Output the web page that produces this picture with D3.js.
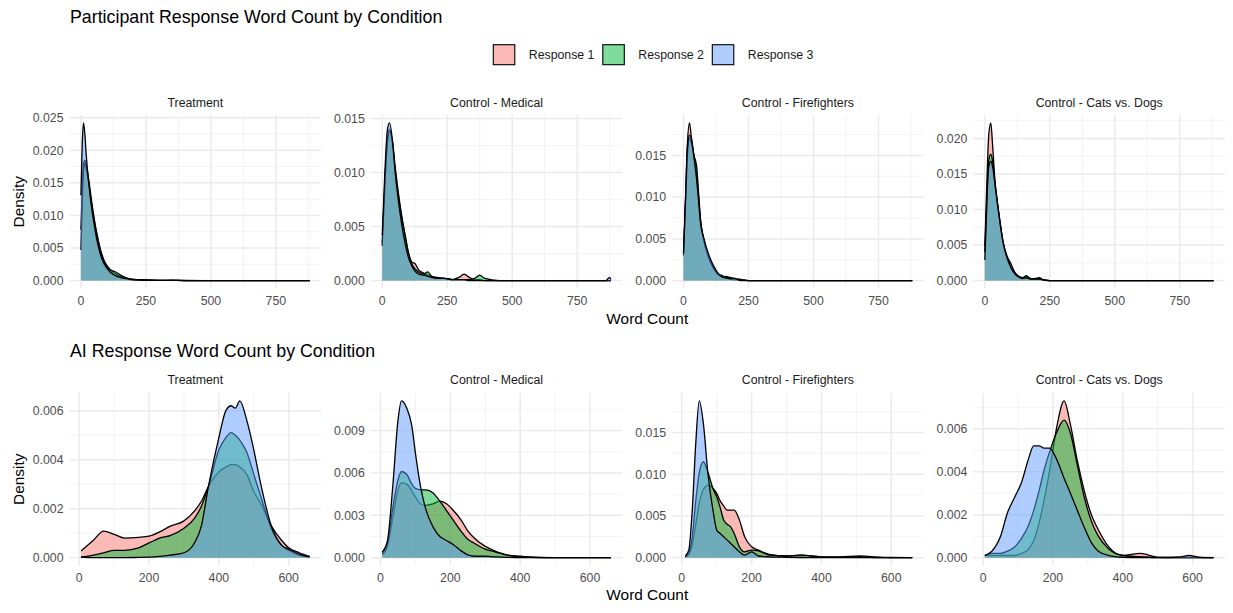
<!DOCTYPE html>
<html>
<head>
<meta charset="utf-8">
<script src="https://cdn.jsdelivr.net/npm/d3@7"></script>
<style>
  body { margin: 0; background: #fff; }
  text { font-family: "Liberation Sans", Arial, Helvetica, sans-serif; }
</style>
</head>
<body>
<svg id="chart"></svg>
<script>
var responses = ["Response 1", "Response 2", "Response 3"];
var fills = ["#F8766D", "#00BA38", "#619CFF"];
var conditions = ["Treatment", "Control - Medical", "Control - Firefighters", "Control - Cats vs. Dogs"];

// participant responses (top row)
var partTreatX = [0, 5, 10, 15, 20, 30, 40, 50, 60, 75, 90, 110, 130, 150, 175, 200, 250, 300, 350, 400, 500, 600, 700, 800, 880];
var partTreatR1 = [0.0078, 0.0140, 0.0180, 0.0185, 0.0178, 0.0155, 0.0125, 0.0098, 0.0075, 0.0048, 0.0030, 0.0018, 0.0011, 0.0007, 0.0004, 0.0002, 0.0001, 0.00005, 0.00004, 0.00002, 0.00001, 0, 0, 0, 0];
var partTreatR2 = [0.0047, 0.0120, 0.0172, 0.0180, 0.0172, 0.0150, 0.0120, 0.0095, 0.0072, 0.0045, 0.0028, 0.0017, 0.0014, 0.0009, 0.0004, 0.0002, 0.0001, 0.00005, 0.00003, 0.00001, 0, 0, 0, 0, 0];
var partTreatR3 = [0.0131, 0.0210, 0.0242, 0.0225, 0.0195, 0.0150, 0.0115, 0.0088, 0.0065, 0.0040, 0.0025, 0.0014, 0.0008, 0.0005, 0.0003, 0.0001, 0.00005, 0.00003, 0.00006, 0.00001, 0, 0, 0, 0, 0];

var partMedX = [0, 10, 20, 28, 40, 50, 60, 75, 90, 100, 115, 125, 140, 160, 175, 190, 210, 240, 270, 295, 315, 335, 355, 375, 395, 450, 600, 800, 860, 875, 880];
var partMedR1 = [0.0035, 0.0090, 0.0132, 0.0140, 0.0125, 0.0100, 0.0082, 0.0058, 0.0038, 0.0026, 0.0017, 0.0016, 0.0010, 0.0007, 0.0005, 0.0004, 0.0003, 0.0002, 0.0001, 0.0003, 0.0006, 0.0003, 0.0001, 0.0001, 0, 0, 0, 0, 0, 0, 0];
var partMedR2 = [0.0032, 0.0088, 0.0128, 0.0138, 0.0128, 0.0105, 0.0085, 0.0060, 0.0040, 0.0027, 0.0015, 0.0011, 0.0008, 0.0006, 0.0008, 0.0004, 0.0002, 0.0002, 0.0001, 0.0001, 0.0001, 0.0001, 0.0002, 0.0005, 0.0002, 0, 0, 0, 0, 0, 0];
var partMedR3 = [0.0042, 0.0100, 0.0140, 0.0146, 0.0128, 0.0100, 0.0078, 0.0052, 0.0032, 0.0022, 0.0013, 0.0009, 0.0006, 0.0005, 0.0004, 0.0003, 0.0002, 0.0002, 0.0001, 0.0001, 0.0001, 0, 0, 0, 0, 0, 0, 0, 0, 0.0003, 0.0001];

var partFireX = [0, 8, 15, 23, 30, 40, 50, 58, 65, 77, 96, 115, 135, 150, 165, 180, 195, 210, 225, 250, 400, 600, 880];
var partFireR1 = [0.0030, 0.0100, 0.0165, 0.0189, 0.0172, 0.0150, 0.0128, 0.0100, 0.0072, 0.0050, 0.0029, 0.0016, 0.0007, 0.0004, 0.0005, 0.0003, 0.0001, 0.0002, 0.0001, 0, 0, 0, 0];
var partFireR2 = [0.0033, 0.0095, 0.0150, 0.0170, 0.0165, 0.0150, 0.0138, 0.0105, 0.0075, 0.0050, 0.0028, 0.0015, 0.0007, 0.0006, 0.0003, 0.0004, 0.0002, 0.0001, 0.0001, 0, 0, 0, 0];
var partFireR3 = [0.0033, 0.0102, 0.0160, 0.0174, 0.0170, 0.0148, 0.0122, 0.0095, 0.0070, 0.0052, 0.0032, 0.0018, 0.0008, 0.0004, 0.0003, 0.0002, 0.0003, 0.0001, 0, 0, 0, 0, 0];

var partCatsX = [0, 8, 15, 23, 30, 40, 50, 60, 70, 85, 100, 115, 130, 145, 160, 175, 195, 210, 225, 250, 400, 600, 880];
var partCatsR1 = [0.0048, 0.0140, 0.0205, 0.0222, 0.0190, 0.0135, 0.0105, 0.0078, 0.0055, 0.0035, 0.0024, 0.0012, 0.0006, 0.0004, 0.0006, 0.0002, 0.0003, 0.0004, 0.0001, 0, 0, 0, 0];
var partCatsR2 = [0.0040, 0.0120, 0.0170, 0.0178, 0.0168, 0.0135, 0.0105, 0.0078, 0.0054, 0.0032, 0.0018, 0.0010, 0.0006, 0.0004, 0.0007, 0.0003, 0.0002, 0.0003, 0.0001, 0, 0, 0, 0];
var partCatsR3 = [0.0029, 0.0110, 0.0160, 0.0168, 0.0160, 0.0132, 0.0104, 0.0077, 0.0054, 0.0033, 0.0019, 0.0010, 0.0005, 0.0003, 0.0004, 0.0002, 0.0002, 0.0002, 0.0001, 0, 0, 0, 0];

// AI responses (bottom row)
var aiTreatX = [5, 40, 70, 100, 130, 170, 200, 230, 260, 300, 330, 350, 370, 400, 420, 435, 447, 460, 480, 500, 520, 550, 580, 600, 630, 660];
var aiTreatR1 = [0.00027, 0.0007, 0.00108, 0.00095, 0.0008, 0.00083, 0.00088, 0.00105, 0.00128, 0.0015, 0.0019, 0.0023, 0.0029, 0.0035, 0.0037, 0.0038, 0.0038, 0.0037, 0.0034, 0.0027, 0.0022, 0.0013, 0.0007, 0.0004, 0.0002, 0.00005];
var aiTreatR2 = [0.00002, 0.0001, 0.0002, 0.0003, 0.0003, 0.0004, 0.0006, 0.0008, 0.0009, 0.0012, 0.0016, 0.0021, 0.0029, 0.0044, 0.0049, 0.0051, 0.0050, 0.0048, 0.0043, 0.0034, 0.0025, 0.0012, 0.0005, 0.0003, 0.0001, 0.00003];
var aiTreatR3 = [0.00002, 0, 0, 0, 0, 0.00001, 0.00002, 0.00005, 0.0001, 0.0002, 0.0006, 0.0013, 0.0029, 0.0049, 0.0060, 0.0062, 0.0061, 0.0064, 0.0056, 0.0044, 0.0030, 0.0013, 0.0005, 0.00035, 0.00015, 0.00003];

var aiMedX = [5, 20, 35, 50, 60, 75, 90, 100, 115, 130, 150, 170, 190, 210, 230, 250, 270, 300, 330, 360, 400, 450, 500, 600, 660];
var aiMedR1 = [0.0002, 0.0008, 0.0028, 0.0048, 0.0053, 0.0052, 0.0047, 0.0043, 0.0038, 0.0037, 0.0038, 0.0040, 0.0038, 0.0033, 0.0027, 0.0019, 0.00135, 0.0008, 0.00045, 0.0002, 0.0001, 0.00002, 0, 0, 0];
var aiMedR2 = [0.0003, 0.0010, 0.0035, 0.0055, 0.0061, 0.0059, 0.0052, 0.0049, 0.0048, 0.0048, 0.0046, 0.0040, 0.0033, 0.0026, 0.0019, 0.0013, 0.0010, 0.0006, 0.0004, 0.0002, 0.00005, 0.00001, 0, 0, 0];
var aiMedR3 = [0.0004, 0.0012, 0.0050, 0.0097, 0.0111, 0.0106, 0.0093, 0.0074, 0.0050, 0.0034, 0.0022, 0.0015, 0.0012, 0.0009, 0.0005, 0.0002, 0.0001, 0.0001, 0.00005, 0.00002, 0.00001, 0, 0, 0, 0];

var aiFireX = [10, 20, 30, 40, 50, 62, 75, 90, 100, 110, 120, 130, 140, 150, 165, 180, 200, 220, 250, 300, 340, 400, 450, 510, 550, 600, 660];
var aiFireR1 = [0.0001, 0.0004, 0.0015, 0.0040, 0.0065, 0.0082, 0.0087, 0.0083, 0.0077, 0.0068, 0.0062, 0.0057, 0.0057, 0.0057, 0.0045, 0.0025, 0.0013, 0.0009, 0.0004, 0.0002, 0.0003, 0.0001, 0.0001, 0.0002, 0.0001, 0.00002, 0];
var aiFireR2 = [0.0001, 0.0005, 0.0025, 0.0068, 0.0102, 0.0115, 0.0102, 0.0082, 0.0073, 0.0060, 0.0045, 0.0040, 0.0037, 0.0029, 0.0013, 0.0007, 0.0009, 0.0008, 0.0003, 0.0002, 0.0003, 0.0001, 0.00005, 0.0001, 0.00002, 0, 0];
var aiFireR3 = [0.0002, 0.0009, 0.0057, 0.0137, 0.0188, 0.0160, 0.0100, 0.0055, 0.0033, 0.0029, 0.0025, 0.0021, 0.0017, 0.0013, 0.0007, 0.0003, 0.0007, 0.0002, 0.0001, 0.00005, 0.00002, 0, 0, 0, 0, 0, 0];

var aiCatsX = [5, 25, 50, 70, 90, 110, 130, 145, 160, 175, 190, 210, 232, 250, 270, 290, 310, 330, 360, 400, 450, 500, 560, 590, 620, 660];
var aiCatsR1 = [0.0001, 0.0001, 0.0001, 0.0001, 0.0001, 0.0002, 0.0004, 0.0008, 0.0016, 0.0027, 0.0040, 0.0060, 0.0073, 0.0062, 0.0045, 0.0031, 0.0020, 0.0013, 0.0005, 0.0001, 0.0002, 0.00002, 0, 0, 0, 0];
var aiCatsR2 = [0.0001, 0.0002, 0.0002, 0.0003, 0.0005, 0.0009, 0.0015, 0.0022, 0.0031, 0.0041, 0.0049, 0.0058, 0.0064, 0.0058, 0.0043, 0.0028, 0.0017, 0.0010, 0.0004, 0.0001, 0.00005, 0, 0, 0, 0, 0];
var aiCatsR3 = [0.0001, 0.0003, 0.0010, 0.0021, 0.0028, 0.0035, 0.0046, 0.0052, 0.0052, 0.0051, 0.0051, 0.0046, 0.0037, 0.0030, 0.0022, 0.0014, 0.0007, 0.0003, 0.0001, 0.00002, 0, 0, 0.00003, 0.0001, 0.00002, 0];

var topXTicks = [0, 250, 500, 750];
var bottomXTicks = [0, 200, 400, 600];
var topYTicks = [[0, 0.005, 0.010, 0.015, 0.020, 0.025], [0, 0.005, 0.010, 0.015], [0, 0.005, 0.010, 0.015], [0, 0.005, 0.010, 0.015, 0.020]];
var bottomYTicks = [[0, 0.002, 0.004, 0.006], [0, 0.003, 0.006, 0.009], [0, 0.005, 0.010, 0.015], [0, 0.002, 0.004, 0.006]];

var W = 1233, H = 613;
var svg = d3.select("#chart").attr("width", W).attr("height", H);

var panelLeft = 69.5, panelW = 251.6, panelPitch = 301.3;

function makeSeries(xs, ys) {
    return xs.map(function (x, i) { return [x, ys[i]]; });
}

var rows = [
    {
        title: "Participant Response Word Count by Condition", titleY: 23,
        top: 115, bottom: 288.5, stripY: 107, tickY: 305, xTitleY: 324,
        xTicks: topXTicks, yTicks: topYTicks,
        panels: [
            [makeSeries(partTreatX, partTreatR1), makeSeries(partTreatX, partTreatR2), makeSeries(partTreatX, partTreatR3)],
            [makeSeries(partMedX, partMedR1), makeSeries(partMedX, partMedR2), makeSeries(partMedX, partMedR3)],
            [makeSeries(partFireX, partFireR1), makeSeries(partFireX, partFireR2), makeSeries(partFireX, partFireR3)],
            [makeSeries(partCatsX, partCatsR1), makeSeries(partCatsX, partCatsR2), makeSeries(partCatsX, partCatsR3)]
        ]
    },
    {
        title: "AI Response Word Count by Condition", titleY: 357,
        top: 393, bottom: 565.5, stripY: 384, tickY: 582, xTitleY: 600,
        xTicks: bottomXTicks, yTicks: bottomYTicks,
        panels: [
            [makeSeries(aiTreatX, aiTreatR1), makeSeries(aiTreatX, aiTreatR2), makeSeries(aiTreatX, aiTreatR3)],
            [makeSeries(aiMedX, aiMedR1), makeSeries(aiMedX, aiMedR2), makeSeries(aiMedX, aiMedR3)],
            [makeSeries(aiFireX, aiFireR1), makeSeries(aiFireX, aiFireR2), makeSeries(aiFireX, aiFireR3)],
            [makeSeries(aiCatsX, aiCatsR1), makeSeries(aiCatsX, aiCatsR2), makeSeries(aiCatsX, aiCatsR3)]
        ]
    }
];

function expand(lo, hi) {
    var d = (hi - lo) * 0.05;
    return [lo - d, hi + d];
}

function minorOf(ticks, domain) {
    var step = ticks[1] - ticks[0];
    var out = [];
    for (var v = ticks[0] - step / 2; v <= ticks[ticks.length - 1] + step; v += step) {
        if (v >= domain[0] && v <= domain[1]) out.push(v);
    }
    return out;
}

rows.forEach(function (row) {
    // shared x scale across the row (fixed scales in facet)
    var allX = [];
    row.panels.forEach(function (p) { p.forEach(function (s) { s.forEach(function (d) { allX.push(d[0]); }); }); });
    var xDomain = expand(d3.min(allX), d3.max(allX));

    svg.append("text")
        .attr("x", 70).attr("y", row.titleY)
        .style("font-size", "17.8px").attr("fill", "#000")
        .text(row.title);

    row.panels.forEach(function (series, i) {
        var x0 = panelLeft + i * panelPitch;
        var x = d3.scaleLinear().domain(xDomain).range([x0, x0 + panelW]);
        var ymax = d3.max(series, function (s) { return d3.max(s, function (d) { return d[1]; }); });
        var yDomain = expand(0, ymax);
        var y = d3.scaleLinear().domain(yDomain).range([row.bottom, row.top]);
        var g = svg.append("g");

        // grid
        minorOf(row.xTicks, xDomain).forEach(function (v) {
            g.append("line").attr("x1", x(v)).attr("x2", x(v)).attr("y1", row.top).attr("y2", row.bottom)
                .attr("stroke", "#f2f2f2").attr("stroke-width", 0.9);
        });
        minorOf(row.yTicks[i], yDomain).forEach(function (v) {
            g.append("line").attr("x1", x0).attr("x2", x0 + panelW).attr("y1", y(v)).attr("y2", y(v))
                .attr("stroke", "#f2f2f2").attr("stroke-width", 0.9);
        });
        row.xTicks.forEach(function (v) {
            g.append("line").attr("x1", x(v)).attr("x2", x(v)).attr("y1", row.top).attr("y2", row.bottom)
                .attr("stroke", "#ebebeb").attr("stroke-width", 1.5);
        });
        row.yTicks[i].forEach(function (v) {
            g.append("line").attr("x1", x0).attr("x2", x0 + panelW).attr("y1", y(v)).attr("y2", y(v))
                .attr("stroke", "#ebebeb").attr("stroke-width", 1.5);
        });

        // densities
        var area = d3.area().x(function (d) { return x(d[0]); })
            .y0(y(0)).y1(function (d) { return y(d[1]); }).curve(d3.curveMonotoneX);
        var line = d3.line().x(function (d) { return x(d[0]); })
            .y(function (d) { return y(d[1]); }).curve(d3.curveMonotoneX);
        series.forEach(function (s, k) {
            g.append("path").attr("d", area(s)).attr("fill", fills[k]).attr("fill-opacity", 0.5);
            g.append("path").attr("d", line(s)).attr("fill", "none").attr("stroke", "#000")
                .attr("stroke-width", 1.3).attr("stroke-linejoin", "round");
        });

        // tick labels
        row.xTicks.forEach(function (v) {
            g.append("text").attr("x", x(v)).attr("y", row.tickY).attr("text-anchor", "middle")
                .style("font-size", "12.3px").attr("fill", "#4d4d4d").text(v);
        });
        row.yTicks[i].forEach(function (v) {
            g.append("text").attr("x", x0 - 6).attr("y", y(v)).attr("dy", "0.35em").attr("text-anchor", "end")
                .style("font-size", "12.3px").attr("fill", "#4d4d4d").text(d3.format(".3f")(v));
        });

        // strip
        g.append("text").attr("x", x0 + panelW / 2).attr("y", row.stripY).attr("text-anchor", "middle")
            .style("font-size", "12.3px").attr("fill", "#1a1a1a").text(conditions[i]);
    });

    // axis titles
    var mid = panelLeft + (3 * panelPitch + panelW) / 2;
    svg.append("text").attr("x", mid).attr("y", row.xTitleY).attr("text-anchor", "middle")
        .style("font-size", "15.4px").attr("fill", "#000").text("Word Count");
    svg.append("text")
        .attr("transform", "translate(24," + ((row.top + row.bottom) / 2) + ")rotate(-90)")
        .attr("text-anchor", "middle").style("font-size", "15.4px").attr("fill", "#000").text("Density");
});

// legend
var legend = svg.append("g");
responses.forEach(function (r, k) {
    var lx = 493.3 + k * 109.5;
    legend.append("rect").attr("x", lx).attr("y", 44.7).attr("width", 21.5).attr("height", 20)
        .attr("fill", fills[k]).attr("fill-opacity", 0.5).attr("stroke", "#000").attr("stroke-width", 1.1);
    legend.append("text").attr("x", lx + 35.5).attr("y", 59).style("font-size", "12.3px")
        .attr("fill", "#1a1a1a").text(r);
});
</script>
</body>
</html>
